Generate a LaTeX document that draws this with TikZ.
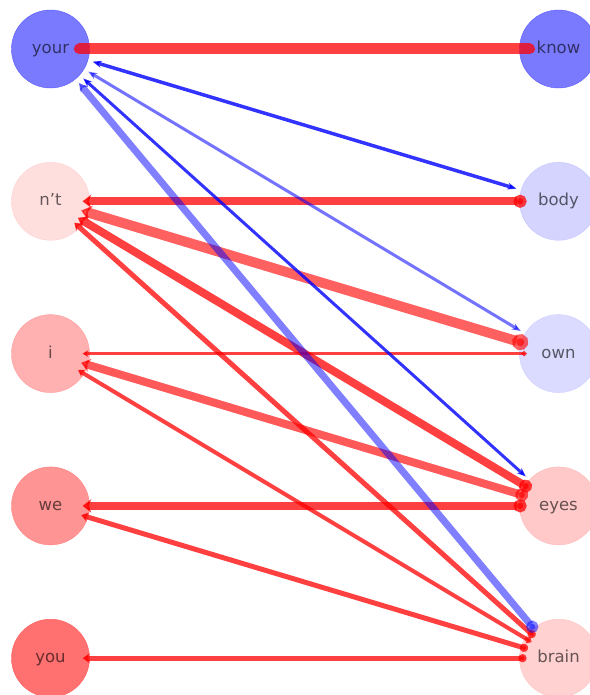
\documentclass[tikz,border=0pt]{standalone}
\usepackage{fontspec}
\setmainfont{DejaVu Sans}
\usepackage{xcolor}
\usetikzlibrary{positioning}
\usetikzlibrary{arrows.meta}

\begin{document}
\begin{tikzpicture}[x=1pt, y=1pt, >=Stealth,
    every node/.style = {circle, minimum size=78pt, inner sep=0pt, outer sep=0pt, text=black, text opacity=.6,
        text height=9pt, text depth=0pt, font=\fontsize{16.5}{16.5}\selectfont, node distance={152.3pt}},
    redge/.style = {draw=red, opacity=.75, line width=#1, shorten <=-7pt, shorten >=-7pt,
        {Stealth[length=4pt 0.6, width=3pt 1.3]}-{Circle[length=0pt 1.6]}},
    bedge/.style = {draw=blue, opacity=.8, line width=#1, shorten <=5pt, shorten >=5pt,
        {Stealth[length=9pt, width=7pt]}-{Stealth[length=9pt, width=7pt]}}
    ]
    \useasboundingbox (0,0) rectangle (589,-695);

    % left column
    \node[fill=blue!52, draw=blue!65] (your) at (50.5,-49) {your};
    \node[fill=red!13, draw=red!18] (nt) [below of=your] {n't};
    \node[fill=red!31, draw=red!38] (i) [below of=nt] {i};
    \node[fill=red!42, draw=red!50] (we) [below of=i] {we};
    \node[fill=red!56, draw=red!64] (you) [below of=we] {you};

    % right column
    \node[fill=blue!52, draw=blue!65] (know) [node distance=508pt, right of=your] {know};
    \node[fill=blue!17, draw=blue!22] (body) [node distance=508pt, right of=nt] {body};
    \node[fill=blue!14, draw=blue!19] (own) [node distance=508pt, right of=i] {own};
    \node[fill=red!21, draw=red!27] (eyes) [node distance=508pt, right of=we] {eyes};
    \node[fill=red!18, draw=red!24] (brain) [node distance=508pt, right of=you] {brain};

    % red edges
    \draw[redge=11pt, arrows=-, line cap=round, shorten <=-10pt, shorten >=-10pt] (your) -- (know);
    \draw[redge=8pt] (nt) -- (body);
    \draw[redge=10pt, opacity=.62] (nt) -- (own);
    \draw[redge=8pt] (nt) -- (eyes);
    \draw[redge=5pt] (nt) -- (brain);
    \draw[redge=3pt] (i) -- (own);
    \draw[redge=8pt, opacity=.65] (i) -- (eyes);
    \draw[redge=4pt] (i) -- (brain);
    \draw[redge=8pt] (we) -- (eyes);
    \draw[redge=5pt] (we) -- (brain);
    \draw[redge=5pt] (you) -- (brain);

    % blue edges
    \draw[bedge=3.5pt] (your) -- (body);
    \draw[bedge=3pt, opacity=.55] (your) -- (own);
    \draw[bedge=3pt] (your) -- (eyes);
    \draw[bedge=7pt, opacity=.5, shorten >=-4pt, {Stealth[length=9pt, width=9pt]}-{Circle[length=12pt, width=12pt]}] (your) -- (brain);
\end{tikzpicture}
\end{document}
